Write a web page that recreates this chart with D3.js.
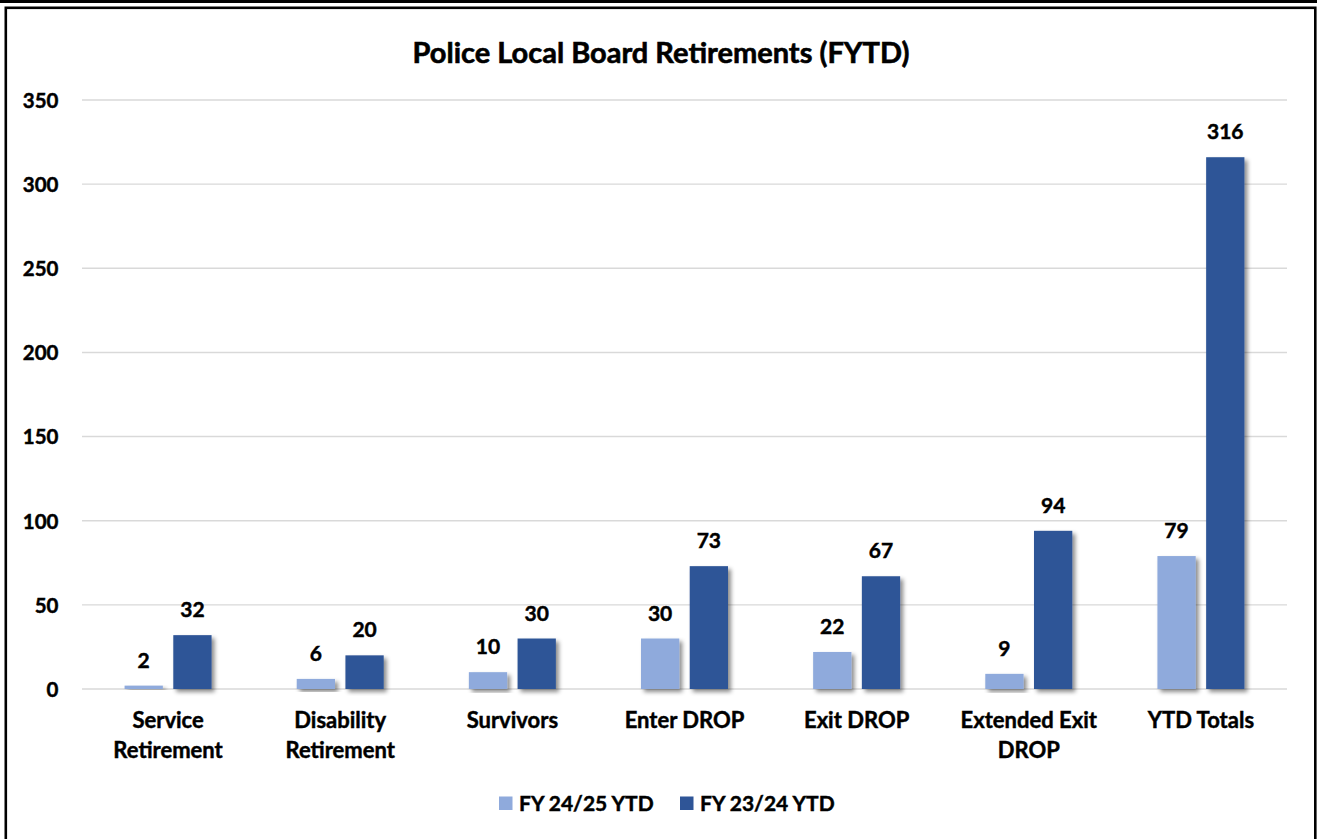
<!DOCTYPE html>
<html><head><meta charset="utf-8">
<script src="https://cdn.jsdelivr.net/npm/d3@7"></script>
<style>
html,body{margin:0;padding:0;background:#fff;}
svg{display:block;}
text{font-family:Lato,"Open Sans",sans-serif;font-weight:700;fill:#000;stroke:#000;stroke-width:0.45px;}
</style></head>
<body>
<script>
const categories = ["Service Retirement","Disability Retirement","Survivors","Enter DROP","Exit DROP","Extended Exit DROP","YTD Totals"];
const categoryLines = [["Service","Retirement"],["Disability","Retirement"],["Survivors"],["Enter DROP"],["Exit DROP"],["Extended Exit","DROP"],["YTD Totals"]];
const seriesNames = ["FY 24/25 YTD","FY 23/24 YTD"];
const fy2425 = [2,6,10,30,22,9,79];
const fy2324 = [32,20,30,73,67,94,316];
const yTicks = [0,50,100,150,200,250,300,350];
const colors = ["#8FAADC","#2F5597"];
const title = "Police Local Board Retirements (FYTD)";

const W = 1320, H = 839;
const svg = d3.select("body").append("svg").attr("width", W).attr("height", H);

const defs = svg.append("defs");
const f = defs.append("filter").attr("id","shadow").attr("x","-30%").attr("y","-10%").attr("width","170%").attr("height","130%");
f.append("feDropShadow").attr("dx",3).attr("dy",3).attr("stdDeviation",2.2).attr("flood-color","#000").attr("flood-opacity",0.45);

// frames
svg.append("line").attr("x1",0).attr("x2",1316).attr("y1",1.5).attr("y2",1.5).attr("stroke","#000").attr("stroke-width",3);
svg.append("line").attr("x1",1315.5).attr("x2",1315.5).attr("y1",0).attr("y2",3).attr("stroke","#000").attr("stroke-width",3);
svg.append("rect").attr("x",5.8).attr("y",7.8).attr("width",1309.5).attr("height",900)
  .attr("fill","none").attr("stroke","#000").attr("stroke-width",2.6);

const x0 = d3.scaleBand().domain(categories).range([82,1287]).paddingInner(0).paddingOuter(0);
const bw = x0.bandwidth();
const x1 = d3.scaleBand().domain(seriesNames).range([bw/2-43.5, bw/2+43.5]).paddingInner(0.214).paddingOuter(0);
const y = d3.scaleLinear().domain([0,350]).range([689,100]);

// title
svg.append("text").attr("x",661).attr("y",63).attr("text-anchor","middle").style("font-size","29px").style("stroke-width","0.6px").text(title);

// grid
const yAxis = d3.axisLeft(y).tickValues(yTicks).tickSize(0).tickPadding(0);
svg.append("g").attr("class","grid").selectAll("line").data(yTicks).join("line")
  .attr("x1",82).attr("x2",1287).attr("y1",d=>y(d)).attr("y2",d=>y(d))
  .attr("stroke","#D9D9D9").attr("stroke-width",1.4);

const ya = svg.append("g").attr("transform","translate(58.5,0)").call(yAxis);
ya.select(".domain").remove();
ya.selectAll("text").attr("dy","0.36em").style("font-size","20.5px").style("font-family","Lato").style("font-weight","700").attr("fill","#000");

// bars
const series = [fy2425, fy2324];
const groups = svg.append("g").selectAll("g").data(categories).join("g")
  .attr("transform", d=>`translate(${x0(d)},0)`);
groups.each(function(c, i){
  const g = d3.select(this);
  seriesNames.forEach((s, k) => {
    const v = series[k][i];
    g.append("rect").attr("x", x1(s)).attr("width", x1.bandwidth())
      .attr("y", y(v)).attr("height", y(0)-y(v)).attr("fill", colors[k]).attr("filter","url(#shadow)");
  });
  seriesNames.forEach((s, k) => {
    const v = series[k][i];
    g.append("text").attr("x", x1(s)+x1.bandwidth()/2).attr("y", y(v)-18)
      .attr("text-anchor","middle").style("font-size","21px").text(v);
  });
});

// category labels
const xa = svg.append("g").selectAll("text").data(categories).join("text")
  .attr("x", d=>x0(d)+bw/2).attr("y", 727).attr("text-anchor","middle").style("font-size","22px");
xa.each(function(d,i){
  const t = d3.select(this);
  categoryLines[i].forEach((ln, j) => {
    t.append("tspan").attr("x", x0(d)+bw/2).attr("y", 727.5 + j*30).text(ln);
  });
});

// legend
const leg = svg.append("g");
const legX = [499, 680];
seriesNames.forEach((s,k)=>{
  leg.append("rect").attr("x",legX[k]).attr("y",796.5).attr("width",13.5).attr("height",13.5).attr("fill",colors[k]);
  leg.append("text").attr("x",legX[k]+20).attr("y",810.5).style("font-size","21px").text(s);
});
</script>
</body></html>
